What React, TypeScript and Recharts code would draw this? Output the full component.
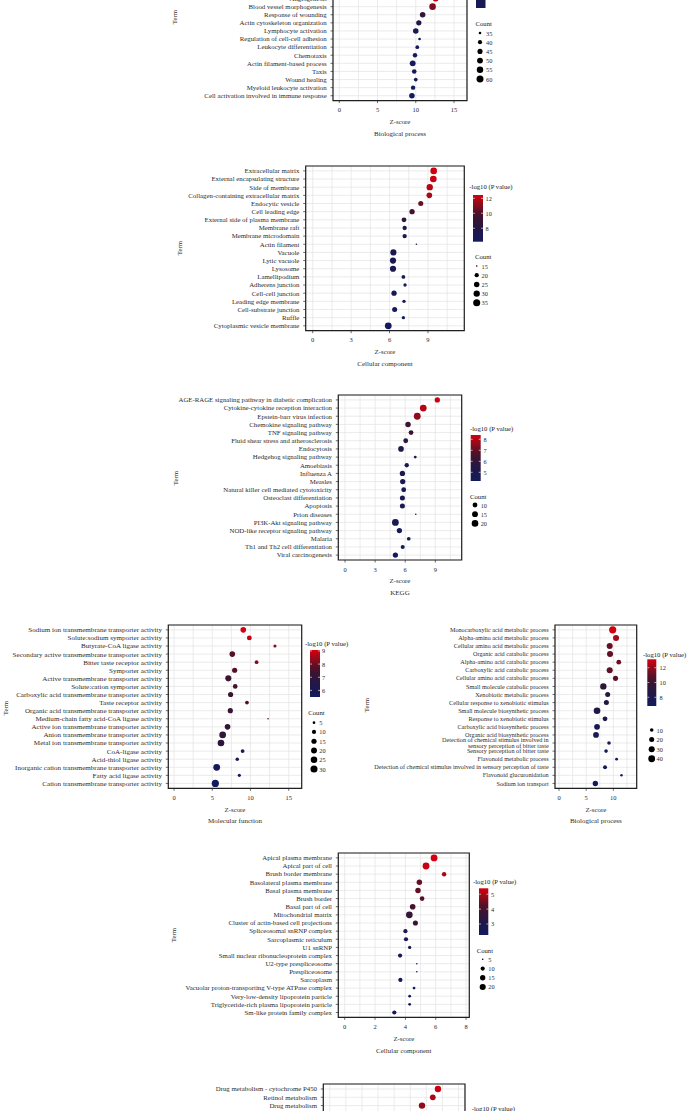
import React from "react";
import { ScatterChart, Scatter, XAxis, YAxis, CartesianGrid, ReferenceArea } from "recharts";

const FONT = "'Liberation Serif', 'Times New Roman', serif";
const W = 687;
const H = 1111;
const R_MIN = 0.8;
const R_MAX = 3.6;
const GRID = "#e2e2e2";
const INK = "#2b2b2b";

// ---------- Biological process (top, partly cut) ----------
const bpTopTerms = [
  "Angiogenesis",
  "Blood vessel morphogenesis",
  "Response of wounding",
  "Actin cytoskeleton organization",
  "Lymphocyte activation",
  "Regulation of cell-cell adhesion",
  "Leukocyte differentiation",
  "Chemotaxis",
  "Actin filament-based process",
  "Taxis",
  "Wound healing",
  "Myeloid leukocyte activation",
  "Cell activation involved in immune response",
];
const bpTopZ = [12.6, 12.2, 10.9, 10.4, 10.0, 10.5, 10.2, 9.9, 9.6, 9.8, 10.0, 9.65, 9.5];
const bpTopCount = [51, 56, 48, 46, 48, 35, 38, 41, 50, 42, 38, 41, 48];
const bpTopLogP = [31, 27.5, 22, 19.4, 16.2, 15.8, 15.4, 15.1, 15.1, 14.9, 14.7, 14.5, 14];

// ---------- Cellular component ----------
const ccTerms = [
  "Extracellular matrix",
  "External encapsulating structure",
  "Side of membrane",
  "Collagen-containing extracellular matrix",
  "Endocytic vesicle",
  "Cell leading edge",
  "External side of plasma membrane",
  "Membrane raft",
  "Membrane microdomain",
  "Actin filament",
  "Vacuole",
  "Lytic vacuole",
  "Lysosome",
  "Lamellipodium",
  "Adherens junction",
  "Cell-cell junction",
  "Leading edge membrane",
  "Cell-substrate junction",
  "Ruffle",
  "Cytoplasmic vesicle membrane",
];
const ccZ = [9.45, 9.42, 9.14, 9.11, 8.44, 7.76, 7.13, 7.18, 7.18, 8.1, 6.3, 6.27, 6.27, 7.08, 7.21, 6.35, 7.13, 6.4, 7.08, 5.9];
const ccCount = [32, 32, 30, 26, 23, 24, 22, 20, 20, 15, 29, 29, 29, 18, 17, 24, 17, 23, 17, 33];
const ccLogP = [12.4, 12.2, 11.9, 11.7, 10.6, 9.6, 8.2, 7.9, 7.9, 7.5, 7.3, 7.2, 7.1, 6.8, 6.8, 6.6, 6.6, 6.5, 6.4, 6.2];

// ---------- KEGG ----------
const keggTerms = [
  "AGE-RAGE signaling pathway in diabetic complication",
  "Cytokine-cytokine reception interaction",
  "Epstein-barr virus infection",
  "Chemokine signaling pathway",
  "TNF signaling pathway",
  "Fluid shear stress and atherosclerosis",
  "Endocytosis",
  "Hedgehog signaling pathway",
  "Amoebiasis",
  "Influenza A",
  "Measles",
  "Natural killer cell mediated cytotoxicity",
  "Osteoclast differentiation",
  "Apoptosis",
  "Prion diseases",
  "PI3K-Akt signaling pathway",
  "NOD-like receptor signaling pathway",
  "Malaria",
  "Th1 and Th2 cell differentiation",
  "Viral carcinogenesis",
];
const keggZ = [9.2, 7.8, 7.2, 6.28, 6.58, 6.05, 5.58, 7.0, 6.15, 5.72, 5.75, 5.85, 5.72, 5.72, 7.05, 5.02, 5.42, 6.35, 5.75, 5.02];
const keggCount = [12, 21, 21, 13, 10, 10, 14, 4, 8, 12, 12, 10, 11, 11, 3, 21, 12, 6, 7, 12];
const keggLogP = [8.3, 8.05, 7.6, 6.3, 6.4, 5.7, 5.5, 5.05, 5.1, 4.95, 4.9, 4.85, 4.75, 4.75, 4.63, 4.63, 4.55, 4.42, 4.33, 4.21];

// ---------- Molecular function ----------
const mfTerms = [
  "Sodium ion transmembrane transporter activity",
  "Solute:sodium symporter activity",
  "Butyrate-CoA ligase activity",
  "Secondary active transmembrane transporter activity",
  "Bitter taste receptor activity",
  "Symporter activity",
  "Active transmembrane transporter activity",
  "Solute:cation symporter activity",
  "Carboxylic acid transmembrane transporter activity",
  "Taste receptor activity",
  "Organic acid transmembrane transporter activity",
  "Medium-chain fatty acid-CoA ligase activity",
  "Active ion transmembrane transporter activity",
  "Anion transmembrane transporter activity",
  "Metal ion transmembrane transporter activity",
  "CoA-ligase activity",
  "Acid-thiol ligase activity",
  "Inorganic cation transmembrane transporter activity",
  "Fatty acid ligase activity",
  "Cation transmembrane transporter activity",
];
const mfZ = [9.06, 9.85, 13.2, 7.62, 10.8, 7.93, 7.1, 8.0, 7.4, 9.54, 7.36, 12.3, 7.0, 6.36, 6.14, 8.97, 8.27, 5.58, 8.54, 5.4];
const mfCount = [18, 13, 6, 18, 8, 15, 21, 12, 15, 8, 15, 4, 18, 26, 26, 8, 7, 27, 6, 31];
const mfLogP = [9.07, 8.9, 8.3, 7.8, 8.2, 7.7, 7.3, 7.5, 7.3, 7.7, 7.2, 7.6, 7.0, 6.9, 6.8, 6.0, 5.9, 5.7, 5.6, 5.5];

// ---------- Biological process (right) ----------
const bpTerms = [
  "Monocarboxylic acid metabolic process",
  "Alpha-amino acid metabolic process",
  "Cellular amino acid metabolic process",
  "Organic acid catabolic process",
  "Alpha-amino acid catabolic process",
  "Carboxylic acid catabolic process",
  "Cellular amino acid catabolic process",
  "Small molecule catabolic process",
  "Xenobiotic metabolic process",
  "Cellular response to xenobiotic stimulus",
  "Small molecule biosynthetic process",
  "Response to xenobiotic stimulus",
  "Carboxylic acid biosynthetic process",
  "Organic acid biosynthetic process",
  "Detection of chemical stimulus involved in\nsensory perception of bitter taste",
  "Sensory perception of bitter taste",
  "Flavonoid metabolic process",
  "Detection of chemical stimulus involved in sensory perception of taste",
  "Flavonoid glucuronidation",
  "Sodium ion transport",
];
const bpZ = [9.88, 10.5, 9.33, 9.39, 11.0, 9.33, 10.4, 8.16, 8.96, 8.72, 7.0, 8.47, 7.0, 6.81, 9.2, 8.66, 10.6, 8.47, 11.5, 6.69];
const bpCount = [45, 30, 30, 30, 18, 30, 21, 34, 20, 20, 37, 18, 27, 27, 10, 10, 7, 12, 6, 23];
const bpLogP = [13.1, 12.3, 11.2, 11.1, 11.3, 11.0, 10.9, 9.3, 9.0, 8.5, 8.3, 8.2, 7.6, 7.5, 7.2, 7.2, 7.1, 7.0, 6.9, 6.85];

// ---------- Cellular component (lower) ----------
const cc2Terms = [
  "Apical plasma membrane",
  "Apical part of cell",
  "Brush border membrane",
  "Basolateral plasma membrane",
  "Basal plasma membrane",
  "Brush border",
  "Basal part of cell",
  "Mitochondrial matrix",
  "Cluster of actin-based cell projections",
  "Spliceosomal snRNP complex",
  "Sarcoplasmic reticulum",
  "U1 snRNP",
  "Small nuclear ribonucleoprotein complex",
  "U2-type prespliceosome",
  "Prespliceosome",
  "Sarcoplasm",
  "Vacuolar proton-transporting V-type ATPase complex",
  "Very-low-density lipoprotein particle",
  "Triglyceride-rich plasma lipoprotein particle",
  "Sm-like protein family complex",
];
const cc2Z = [5.89, 5.36, 6.55, 4.92, 4.83, 5.1, 4.48, 4.26, 4.66, 4.0, 4.04, 4.28, 3.65, 4.75, 4.75, 3.67, 4.57, 4.28, 4.28, 3.27];
const cc2Count = [25, 25, 11, 16, 16, 12, 17, 24, 14, 10, 10, 7, 10, 5, 5, 10, 6, 6, 6, 10];
const cc2LogP = [5.4, 5.3, 5.0, 4.4, 4.35, 4.3, 4.0, 3.7, 3.8, 2.9, 2.85, 2.7, 2.65, 2.6, 2.6, 2.5, 2.45, 2.4, 2.35, 2.26];

// ---------- KEGG (bottom, cut) ----------
const kegg2Terms = [
  "Drug metabolism - cytochrome P450",
  "Retinol metabolism",
  "Drug metabolism",
  "Metabolism of xenobiotics by cytochrome P450",
];
const kegg2Z = [6.72, 6.4, 5.73, 5.85];
const kegg2Count = [22, 18, 22, 18];
const kegg2LogP = [9.8, 9.0, 8.4, 8.4];

// navy -> dark -> red ramp
const STOPS: [number, number[]][] = [
  [0, [19, 27, 94]],
  [0.25, [31, 24, 72]],
  [0.5, [58, 20, 50]],
  [0.65, [90, 16, 37]],
  [0.8, [142, 12, 28]],
  [1, [212, 0, 15]],
];
const rgb = (c: number[]) => `rgb(${c.map((v) => Math.round(v)).join(",")})`;
function rampColor(t: number) {
  const u = Math.max(0, Math.min(1, t));
  for (let i = 1; i < STOPS.length; i++) {
    const [o1, c1] = STOPS[i];
    const [o0, c0] = STOPS[i - 1];
    if (u <= o1) {
      const f = (u - o0) / (o1 - o0);
      return rgb(c0.map((v, k) => v + (c1[k] - v) * f));
    }
  }
  return rgb(STOPS[STOPS.length - 1][1]);
}
function radius(c: number, range: [number, number]) {
  const f = Math.max(0, Math.min(1, (c - range[0]) / (range[1] - range[0])));
  return R_MIN + (R_MAX - R_MIN) * Math.sqrt(f);
}

type Box = { left: number; right: number; top: number; bottom: number };
type LegendSpec = {
  titleX: number;
  titleY: number;
  barX: number;
  barW: number;
  barTop: number;
  barBottom: number;
  labelX: number;
  countTitle?: [number, number];
  dotX: number;
  countLabelX: number;
  itemY: number;
  itemStep: number;
  showTitle?: boolean;
};
interface PanelSpec {
  id: string;
  terms: string[];
  z: number[];
  count: number[];
  logp: number[];
  box: Box;
  xDomain: [number, number];
  yDomain: [number, number];
  major: number[];
  minor: number[];
  countRange: [number, number];
  sizeBreaks: number[];
  pRange: [number, number];
  pTicks: number[];
  fontSize: number;
  subtitle: string;
  term: [number, number];
  legend: LegendSpec;
}

const rowsDomain = (n: number): [number, number] => [-0.6, n - 0.4];

const PANELS: PanelSpec[] = [
  {
    id: "bpTop",
    terms: bpTopTerms, z: bpTopZ, count: bpTopCount, logp: bpTopLogP,
    box: { left: 333, right: 467, top: -63, bottom: 100.6 },
    xDomain: [-0.82, 16.7], yDomain: [-7.6, 12.6],
    major: [0, 5, 10, 15], minor: [2.5, 7.5, 12.5],
    countRange: [34, 62], sizeBreaks: [35, 40, 45, 50, 55, 60],
    pRange: [14, 32], pTicks: [],
    fontSize: 6.85, subtitle: "Biological process", term: [174, 17],
    legend: { titleX: 471, titleY: -50, barX: 476, barW: 9.5, barTop: -40, barBottom: 8, labelX: 488, countTitle: [475.5, 23], dotX: 480, countLabelX: 486, itemY: 33, itemStep: 9.2 },
  },
  {
    id: "cc",
    terms: ccTerms, z: ccZ, count: ccCount, logp: ccLogP,
    box: { left: 305.7, right: 464.3, top: 166, bottom: 330.7 },
    xDomain: [-0.55, 11.84], yDomain: rowsDomain(20),
    major: [0, 3, 6, 9], minor: [1.5, 4.5, 7.5, 10.5],
    countRange: [15, 36], sizeBreaks: [15, 20, 25, 30, 35],
    pRange: [6.2, 12.44], pTicks: [8, 10, 12],
    fontSize: 6.85, subtitle: "Cellular component", term: [179.3, 248],
    legend: { titleX: 469.3, titleY: 186.7, barX: 473, barW: 10, barTop: 195, barBottom: 241.7, labelX: 485.5, countTitle: [475, 256.7], dotX: 476.7, countLabelX: 481.5, itemY: 266, itemStep: 9.2, showTitle: true },
  },
  {
    id: "kegg",
    terms: keggTerms, z: keggZ, count: keggCount, logp: keggLogP,
    box: { left: 338.3, right: 461.7, top: 395, bottom: 560 },
    xDomain: [-0.67, 11.63], yDomain: rowsDomain(20),
    major: [0, 3, 6, 9], minor: [1.5, 4.5, 7.5, 10.5],
    countRange: [3, 24], sizeBreaks: [10, 15, 20],
    pRange: [4.21, 8.39], pTicks: [5, 6, 7, 8],
    fontSize: 6.8, subtitle: "KEGG", term: [175, 478],
    legend: { titleX: 470, titleY: 428.3, barX: 470.7, barW: 10, barTop: 435, barBottom: 481, labelX: 483.5, countTitle: [470, 496], dotX: 475, countLabelX: 480.7, itemY: 505, itemStep: 9.2, showTitle: true },
  },
  {
    id: "mf",
    terms: mfTerms, z: mfZ, count: mfCount, logp: mfLogP,
    box: { left: 168.3, right: 301.7, top: 625, bottom: 788.3 },
    xDomain: [-0.75, 16.7], yDomain: rowsDomain(20),
    major: [0, 5, 10, 15], minor: [2.5, 7.5, 12.5],
    countRange: [4, 31], sizeBreaks: [5, 10, 15, 20, 25, 30],
    pRange: [5.5, 9.07], pTicks: [6, 7, 8, 9],
    fontSize: 7.1, subtitle: "Molecular function", term: [5, 708],
    legend: { titleX: 305, titleY: 643.3, barX: 310, barW: 10, barTop: 650, barBottom: 697, labelX: 322, countTitle: [308.3, 712.3], dotX: 314, countLabelX: 319.3, itemY: 722.7, itemStep: 9.26, showTitle: true },
  },
  {
    id: "bp",
    terms: bpTerms, z: bpZ, count: bpCount, logp: bpLogP,
    box: { left: 555, right: 636.7, top: 625, bottom: 788.3 },
    xDomain: [-0.74, 14.3], yDomain: rowsDomain(20),
    major: [0, 5, 10], minor: [2.5, 7.5, 12.5],
    countRange: [5, 45], sizeBreaks: [10, 20, 30, 40],
    pRange: [6.82, 13.14], pTicks: [8, 10, 12],
    fontSize: 6.2, subtitle: "Biological process", term: [366.7, 705],
    legend: { titleX: 643, titleY: 654.3, barX: 647.3, barW: 9, barTop: 659.3, barBottom: 706, labelX: 659.5, dotX: 651.7, countLabelX: 656.5, itemY: 730, itemStep: 9.57, showTitle: true },
  },
  {
    id: "cc2",
    terms: cc2Terms, z: cc2Z, count: cc2Count, logp: cc2LogP,
    box: { left: 338.3, right: 469.3, top: 853.3, bottom: 1017.7 },
    xDomain: [-0.42, 8.21], yDomain: rowsDomain(20),
    major: [0, 2, 4, 6, 8], minor: [1, 3, 5, 7],
    countRange: [5, 28], sizeBreaks: [5, 10, 15, 20],
    pRange: [2.26, 5.4], pTicks: [3, 4, 5],
    fontSize: 6.85, subtitle: "Cellular component", term: [173.3, 935],
    legend: { titleX: 473, titleY: 881.7, barX: 479, barW: 9.3, barTop: 888.3, barBottom: 935, labelX: 491, countTitle: [476.7, 950], dotX: 482.7, countLabelX: 488.3, itemY: 959.3, itemStep: 9.23, showTitle: true },
  },
  {
    id: "kegg2",
    terms: kegg2Terms, z: kegg2Z, count: kegg2Count, logp: kegg2LogP,
    box: { left: 323.3, right: 465, top: 1084, bottom: 1251.7 },
    xDomain: [-0.4, 8.4], yDomain: rowsDomain(20),
    major: [0, 2, 4, 6, 8], minor: [1, 3, 5, 7],
    countRange: [5, 28], sizeBreaks: [10, 20],
    pRange: [2, 10], pTicks: [4, 6, 8],
    fontSize: 6.85, subtitle: "KEGG", term: [160, 1170],
    legend: { titleX: 471.7, titleY: 1108, barX: 476, barW: 10, barTop: 1114, barBottom: 1160, labelX: 488, countTitle: [474, 1175], dotX: 479, countLabelX: 485, itemY: 1185, itemStep: 9.2, showTitle: true },
  },
];

function XTick(props: any) {
  const { x, y, payload, major } = props;
  if (!major.includes(payload.value)) return <g />;
  return (
    <g>
      <line x1={x} x2={x} y1={y} y2={y + 2.5} stroke={INK} strokeWidth={0.7} />
      <text x={x} y={y + 9.2} textAnchor="middle" dominantBaseline="central" fontSize={6.5} fill={INK} fontFamily={FONT}>
        {payload.value}
      </text>
    </g>
  );
}

function TermTick(props: any) {
  const { x, y, payload, terms, fontSize } = props;
  const label = terms[payload.value];
  if (label === undefined) return <g />;
  const lines: string[] = label.split("\n");
  const lh = 5.3;
  return (
    <g>
      <line x1={x - 2.5} x2={x} y1={y} y2={y} stroke={INK} strokeWidth={0.7} />
      <text textAnchor="end" fontSize={fontSize} fill={INK} fontFamily={FONT}>
        {lines.map((l, i) => (
          <tspan key={i} x={x - 6.3} y={y - ((lines.length - 1) * lh) / 2 + i * lh} dy="0.34em">
            {l}
          </tspan>
        ))}
      </text>
    </g>
  );
}

function BubblePanel({ spec }: { spec: PanelSpec }) {
  const { box, legend } = spec;
  const chartTop = box.top - 10;
  const chartH = box.bottom - chartTop + 45;
  const rows = spec.terms.map((term, i) => ({
    term,
    x: spec.z[i],
    y: i,
    count: spec.count[i],
    logp: spec.logp[i],
  }));
  const xTicks = [...spec.major, ...spec.minor].sort((a, b) => a - b);
  const yTicks = spec.terms.map((_, i) => i);
  const pT = (v: number) => (v - spec.pRange[0]) / (spec.pRange[1] - spec.pRange[0]);
  const midX = (box.left + box.right) / 2;
  const gid = `bar-${spec.id}`;
  const barH = legend.barBottom - legend.barTop;

  return (
    <>
      <div style={{ position: "absolute", left: 0, top: chartTop }}>
        <ScatterChart width={W} height={chartH} margin={{ top: 10, right: W - box.right, bottom: 0, left: 0 }}>
          <CartesianGrid stroke={GRID} strokeWidth={0.7} />
          <XAxis
            type="number"
            dataKey="x"
            domain={spec.xDomain}
            ticks={xTicks}
            interval={0}
            allowDataOverflow
            tickSize={0}
            tickMargin={0}
            axisLine={false}
            tickLine={false}
            height={45}
            tick={<XTick major={spec.major} />}
          />
          <YAxis
            type="number"
            dataKey="y"
            domain={spec.yDomain}
            reversed
            ticks={yTicks}
            interval={0}
            allowDataOverflow
            width={box.left}
            tickSize={0}
            tickMargin={0}
            axisLine={false}
            tickLine={false}
            tick={<TermTick terms={spec.terms} fontSize={spec.fontSize} />}
          />
          <ReferenceArea
            x1={spec.xDomain[0]}
            x2={spec.xDomain[1]}
            y1={spec.yDomain[0]}
            y2={spec.yDomain[1]}
            fill="none"
            fillOpacity={0}
            stroke="#1f1f1f"
            strokeWidth={1.2}
            ifOverflow="visible"
          />
          <Scatter
            data={rows}
            isAnimationActive={false}
            shape={(p: any) => (
              <circle
                cx={p.cx}
                cy={p.cy}
                r={radius(p.payload.count, spec.countRange)}
                fill={rampColor(pT(p.payload.logp))}
              />
            )}
          />
        </ScatterChart>
      </div>
      <svg
        width={W}
        height={H}
        style={{ position: "absolute", left: 0, top: 0, pointerEvents: "none" }}
        fontFamily={FONT}
      >
        <defs>
          <linearGradient id={gid} x1="0" y1="1" x2="0" y2="0">
            {STOPS.map(([o, c]) => (
              <stop key={o} offset={o} stopColor={rgb(c)} />
            ))}
          </linearGradient>
        </defs>
        <text
          x={spec.term[0]}
          y={spec.term[1]}
          transform={`rotate(-90 ${spec.term[0]} ${spec.term[1]})`}
          textAnchor="middle"
          dominantBaseline="central"
          fontSize={6.8}
          fill={INK}
        >
          Term
        </text>
        <text x={midX} y={box.bottom + 20.8} textAnchor="middle" dominantBaseline="central" fontSize={6.8} fill={INK}>
          Z-score
        </text>
        <text x={midX} y={box.bottom + 33} textAnchor="middle" dominantBaseline="central" fontSize={7} fill={INK}>
          {spec.subtitle}
        </text>

        {legend.showTitle && (
          <text x={legend.titleX} y={legend.titleY} dominantBaseline="central" fontSize={6.7} fill="#1a1a1a">
            -log10 (P value)
          </text>
        )}
        <rect x={legend.barX} y={legend.barTop} width={legend.barW} height={barH} fill={`url(#${gid})`} />
        {spec.pTicks.map((v) => {
          const yy = legend.barBottom - pT(v) * barH;
          return (
            <g key={v}>
              <line x1={legend.barX} x2={legend.barX + 2} y1={yy} y2={yy} stroke="#fff" strokeWidth={0.6} />
              <line x1={legend.barX + legend.barW - 2} x2={legend.barX + legend.barW} y1={yy} y2={yy} stroke="#fff" strokeWidth={0.6} />
              <text x={legend.labelX} y={yy} dominantBaseline="central" fontSize={6.3} fill={INK}>
                {v}
              </text>
            </g>
          );
        })}
        {legend.countTitle && (
          <text x={legend.countTitle[0]} y={legend.countTitle[1]} dominantBaseline="central" fontSize={6.7} fill="#1a1a1a">
            Count
          </text>
        )}
        {spec.sizeBreaks.map((c, i) => {
          const yy = legend.itemY + i * legend.itemStep;
          return (
            <g key={c}>
              <circle cx={legend.dotX} cy={yy} r={radius(c, spec.countRange)} fill="#000" />
              <text x={legend.countLabelX} y={yy} dominantBaseline="central" fontSize={6.3} fill={INK}>
                {c}
              </text>
            </g>
          );
        })}
      </svg>
    </>
  );
}

export default function App() {
  return (
    <div
      style={{
        position: "absolute",
        left: 0,
        top: 0,
        width: W,
        height: H,
        overflow: "hidden",
        background: "#fff",
        fontFamily: FONT,
      }}
    >
      {PANELS.map((p) => (
        <BubblePanel key={p.id} spec={p} />
      ))}
    </div>
  );
}
